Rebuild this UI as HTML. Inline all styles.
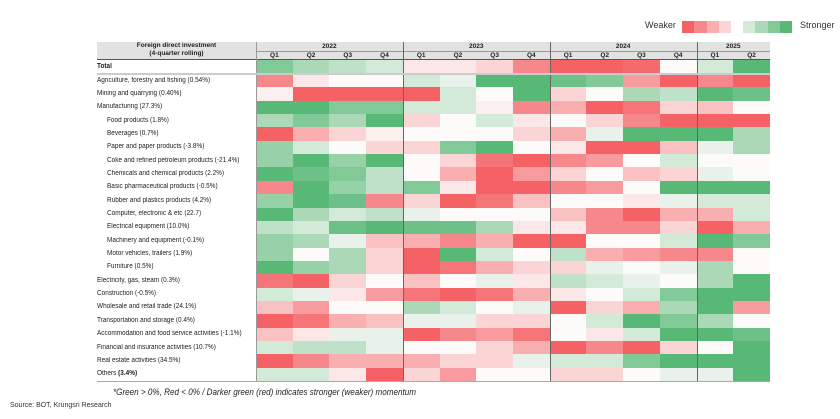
<!DOCTYPE html>
<html><head><meta charset="utf-8"><style>
body{margin:0;background:#fff;width:840px;height:419px;position:relative;overflow:hidden;font-family:"Liberation Sans",sans-serif;}
.a{position:absolute;}
.t{position:absolute;font-size:7px;white-space:nowrap;transform-origin:left center;transform:scaleX(.92);color:#222;}
.c{position:absolute;}
</style></head><body>
<div class="a" style="left:645px;top:20px;font-size:9px;color:#333">Weaker</div>
<div class="a" style="left:800px;top:20px;font-size:9px;color:#333">Stronger</div>
<div id="lg"></div>
<div class="a" style="left:97px;top:42px;width:673px;height:17px;background:#e2e2e2"></div>
<div class="a" style="left:256px;top:51px;width:514px;height:1px;background:#999"></div>
<div class="a" style="left:97px;top:59px;width:673px;height:1px;background:#555"></div>
<div class="a" style="left:97px;top:42px;width:159px;text-align:center;font-size:6.5px;font-weight:bold;line-height:8px;color:#222">Foreign direct investment<br>(4-quarter rolling)</div>
<div id="g"></div>
<div class="a" style="left:97px;top:73px;width:673px;height:1.5px;background:#ccc"></div>
<div class="a" style="left:97px;top:381px;width:673px;height:1px;background:#aaa"></div>
<div class="a" style="left:113px;top:387px;font-size:9px;font-style:italic;color:#222;transform:scaleX(.9);transform-origin:left">*Green &gt; 0%, Red &lt; 0% / Darker green (red) indicates stronger (weaker) momentum</div>
<div class="a" style="left:10px;top:402px;font-size:7px;color:#333">Source: BOT, Krungsri Research</div>
<script>
var rows=[
["Total",0,[3,2,1.5,1,-.5,-.5,-1,-3,-4,-4,-3.8,0,1,4],1],
["Agriculture, forestry and fishing (0.54%)",0,[-3,-.5,0,0,1,.5,4,4,3.5,3,-2.5,-4,-3,-4]],
["Mining and quarrying (0.40%)",0,[-.3,-4,-4,-4,-4,1,0,4,-1,0,2,1.5,4,3.5]],
["Manufacturing (27.3%)",0,[4,4,3,3,1,1,-.3,-3,-2,-4,-3.5,-1,-1.5,0]],
["Food products (1.8%)",1,[2,3,2,4,-1,0,1,-.5,0,-1,-3,-4,-4,-4]],
["Beverages (0.7%)",1,[-4,-2,-1,-.3,0,0,0,-1,-2,.5,4,4,4,2]],
["Paper and paper products (-3.8%)",1,[2.5,1,0,-1,-1,3,4,0,-.5,-4,-4,-1.5,.5,2]],
["Coke and refined petroleum products (-21.4%)",1,[2.5,4,2.5,4,0,-1,-3.5,-4,-3,-2.5,0,1,0,0]],
["Chemicals and chemical products (2.2%)",1,[4,3.5,3,1.5,0,-2,-4,-2.5,-1,0,-1.5,-1,.5,0]],
["Basic pharmaceutical products (-0.5%)",1,[-3,4,2.5,1.5,3,-.5,-4,-4,-3,-2.5,0,4,4,4]],
["Rubber and plastics products (4.2%)",1,[2.5,4,3.5,-3,-1,-4,-3.5,-1.5,0,0,-.5,.5,1,1]],
["Computer, electronic & etc (22.7)",1,[4,2,1,1.5,.5,0,0,0,-1.5,-3,-4,-2,-2,1]],
["Electrical equipment (10.0%)",1,[1.5,1,3.5,4,3.5,3.5,2,-.5,-.5,-3,-3,-1,-4,-2]],
["Machinery and equipment (-0.1%)",1,[2.5,2,.5,-1.5,-2,-3,-2,-4,-4,0,0,1,4,3]],
["Motor vehicles, trailers (1.9%)",1,[2.5,0,2,-1,-4,4,1,0,1.5,-2,-2.5,-3,-3,0]],
["Furniture (0.5%)",1,[4,2.5,2,-1,-4,-3.5,-2,-1,-1,.5,0,.5,2,0]],
["Electricity, gas, steam (0.3%)",0,[-3.5,-4,-1,0,-1.5,0,.5,-.5,1.5,1,.5,0,2,4]],
["Construction (-0.5%)",0,[1,.5,-.5,-2.5,-3.5,-4,-3.5,-2,-.5,0,1,3,4,4]],
["Wholesale and retail trade (24.1%)",0,[-1.5,-2.5,0,0,2,1,0,.5,-4,-1,-2,2,4,-2.5]],
["Transportation and storage (0.4%)",0,[-4,-3.5,-2,-1.5,.5,.5,-1,-1,0,1,4,3,2,0]],
["Accommodation and food service activities (-1.1%)",0,[-1.5,-.5,.5,.5,-4,-3,-2.5,-3.5,0,-.5,1,4,4,3.5]],
["Financial and insurance activities (10.7%)",0,[1,1.5,1.5,.5,0,0,-1,-2,-4,-3,-4,-1,0,4]],
["Real estate activities (34.5%)",0,[-4,-3,-2,-2,-2,-1,-1,.5,1,1,3,4,4,4]],
["Others <b>(3.4%)</b>",0,[1,1,-.5,-4,-1,-2.5,0,0,-1,-1,0,.5,.5,4]]];
function col(v){var w=[253,250,250],e=v<0?[244,98,102]:[88,184,118],t=Math.min(Math.abs(v)/4,1);
return "rgb("+w.map((x,i)=>Math.round(x+(e[i]-x)*t)).join(",")+")";}
var h="",x0=256,cw=36.71;
var yrs=["2022","2023","2024","2025"],ys=[0,4,8,12],yn=[4,4,4,2];
for(var k=0;k<4;k++){h+='<div class="a" style="left:'+(x0+ys[k]*cw)+'px;top:43px;width:'+(yn[k]*cw)+'px;text-align:center;font-size:6.5px;font-weight:bold;color:#222">'+yrs[k]+'</div>';}
for(var q=0;q<14;q++){var qq=["Q1","Q2","Q3","Q4"][q%4];h+='<div class="a" style="left:'+(x0+q*cw)+'px;top:52px;width:'+cw+'px;text-align:center;font-size:6.5px;font-weight:bold;color:#222">'+qq+'</div>';}
rows.forEach(function(r,i){var y=i==0?60:74+(i-1)*13.35,hh=i==0?13:13.35;
h+='<div class="t" style="left:'+(r[1]?107:97)+'px;top:'+(y+2.5)+'px;'+(r[3]?'font-weight:bold':'')+'">'+r[0]+'</div>';
r[2].forEach(function(v,j){h+='<div class="c" style="left:'+(x0+j*cw)+'px;top:'+y+'px;width:'+(cw+.5)+'px;height:'+(hh+.5)+'px;background:'+col(v)+'"></div>';});});
[4,8,12].forEach(function(k){h+='<div class="a" style="left:'+(x0+k*cw)+'px;top:42px;width:1px;height:339px;background:#666"></div>';});
h+='<div class="a" style="left:256px;top:42px;width:1px;height:339px;background:#999"></div>';
document.getElementById("g").innerHTML=h;
var l="";[-4,-3,-2,-1].forEach(function(v,i){l+='<div class="a" style="left:'+(682+i*12.25)+'px;top:21px;width:12.5px;height:12px;background:'+col(v)+'"></div>';});
[1,2,3,4].forEach(function(v,i){l+='<div class="a" style="left:'+(743+i*12.25)+'px;top:21px;width:12.5px;height:12px;background:'+col(v)+'"></div>';});
document.getElementById("lg").innerHTML=l;
</script>
</body></html>
